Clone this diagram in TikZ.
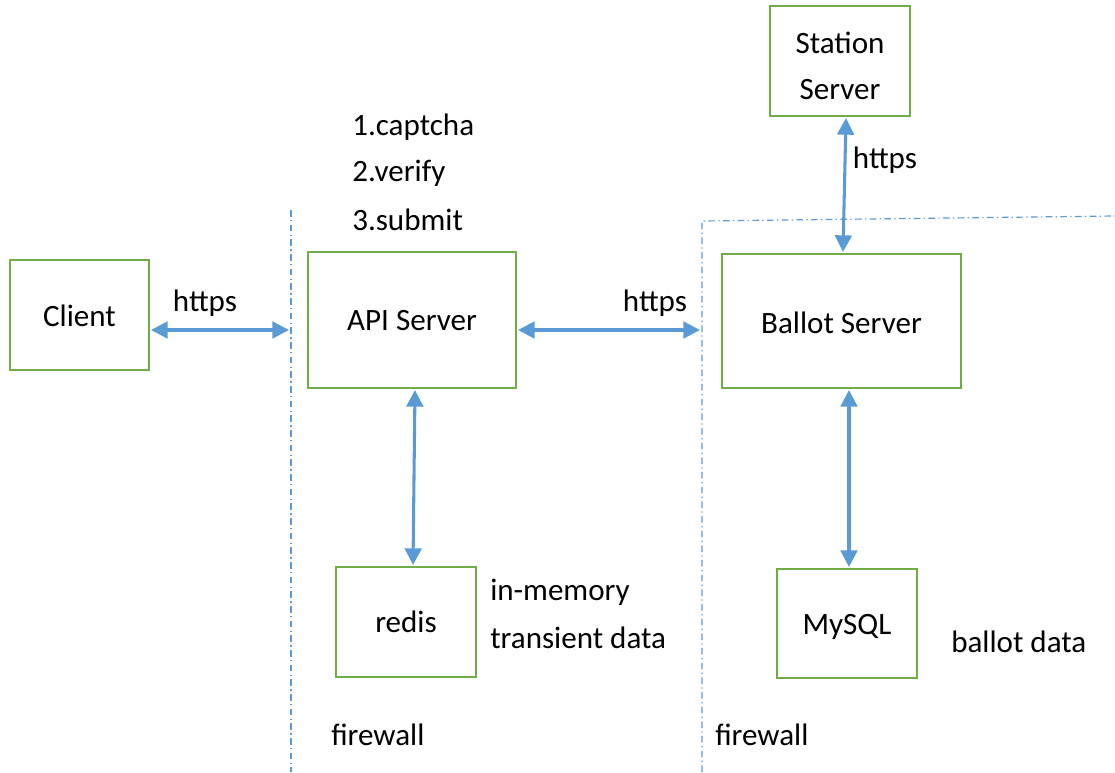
\documentclass[tikz,border=0pt]{standalone}
\usepackage{fontspec}
\setmainfont{Carlito}
\usetikzlibrary{arrows.meta}
\definecolor{boxgreen}{HTML}{70AD47}
\definecolor{arrblue}{HTML}{5B9BD5}
\tikzset{
  box/.style={draw=boxgreen,line width=2.2pt,fill=white},
  conn/.style={draw=arrblue,line width=2.3pt,{Triangle[length=12.5pt,width=12.5pt]}-{Triangle[length=12.5pt,width=12.5pt]}},
  fw/.style={draw=arrblue,line width=0.9pt,dash pattern=on 5pt off 2.5pt on 1pt off 2.5pt},
  lbl/.style={font=\fontsize{23.3}{26}\selectfont,inner sep=0pt},
}
\begin{document}
\begin{tikzpicture}[x=0.75pt,y=-0.75pt]
\useasboundingbox (0,0) rectangle (1115,772);
% firewalls
\coordinate (fwLtop) at (291,210);
\coordinate (fwLbot) at (291,772);
\coordinate (fwRtop) at (702,221);
\coordinate (fwRbot) at (702,772);
\coordinate (fwRend) at (1115,216);
\draw[fw] (fwLtop) -- (fwLbot);
\draw[fw] (fwRbot) -- (fwRtop) -- (fwRend);
% boxes
\path[box] (10,260) rectangle (149,370);
\node[lbl] (client) at (79.5,316) {Client};
\path[box] (308,252) rectangle (516,388);
\node[lbl] (api) at (412,321) {API Server};
\path[box] (722,254) rectangle (961,388);
\node[lbl] (ballot) at (841.5,323) {Ballot Server};
\path[box] (770,6) rectangle (910,116);
\node[lbl] (station1) at (840,43) {Station};
\node[lbl] (station2) at (840,90) {Server};
\path[box] (336,567) rectangle (476,677);
\node[lbl] (redis) at (406,622) {redis};
\path[box] (777,569) rectangle (917,678);
\node[lbl] (mysql) at (847,627) {MySQL};
% connector end points
\coordinate (c1a) at (151,330);
\coordinate (c1b) at (289,330);
\coordinate (c2a) at (518,330);
\coordinate (c2b) at (700,330);
\coordinate (c3a) at (415,390);
\coordinate (c3b) at (413,565);
\coordinate (c4a) at (849,390);
\coordinate (c4b) at (849,567);
\coordinate (c5a) at (846,118);
\coordinate (c5b) at (843,252);
\draw[conn] (c1a) -- (c1b);
\draw[conn] (c2a) -- (c2b);
\draw[conn] (c3a) -- (c3b);
\draw[conn] (c4a) -- (c4b);
\draw[conn] (c5a) -- (c5b);
% labels
\node[lbl] (h1) at (205,303) {https};
\node[lbl] (h2) at (655,303) {https};
\node[lbl] (h3) at (885,160) {https};
\node[lbl,anchor=west] (s1) at (352,127) {1.captcha};
\node[lbl,anchor=west] (s2) at (352,173) {2.verify};
\node[lbl,anchor=west] (s3) at (352,220) {3.submit};
\node[lbl,anchor=west] (m1) at (490,592) {in-memory};
\node[lbl,anchor=west] (m2) at (490,638) {transient data};
\node[lbl,anchor=west] (bd) at (951,642) {ballot data};
\node[lbl,anchor=west] (f1) at (331,735) {firewall};
\node[lbl,anchor=west] (f2) at (715,735) {firewall};
\end{tikzpicture}
\end{document}
